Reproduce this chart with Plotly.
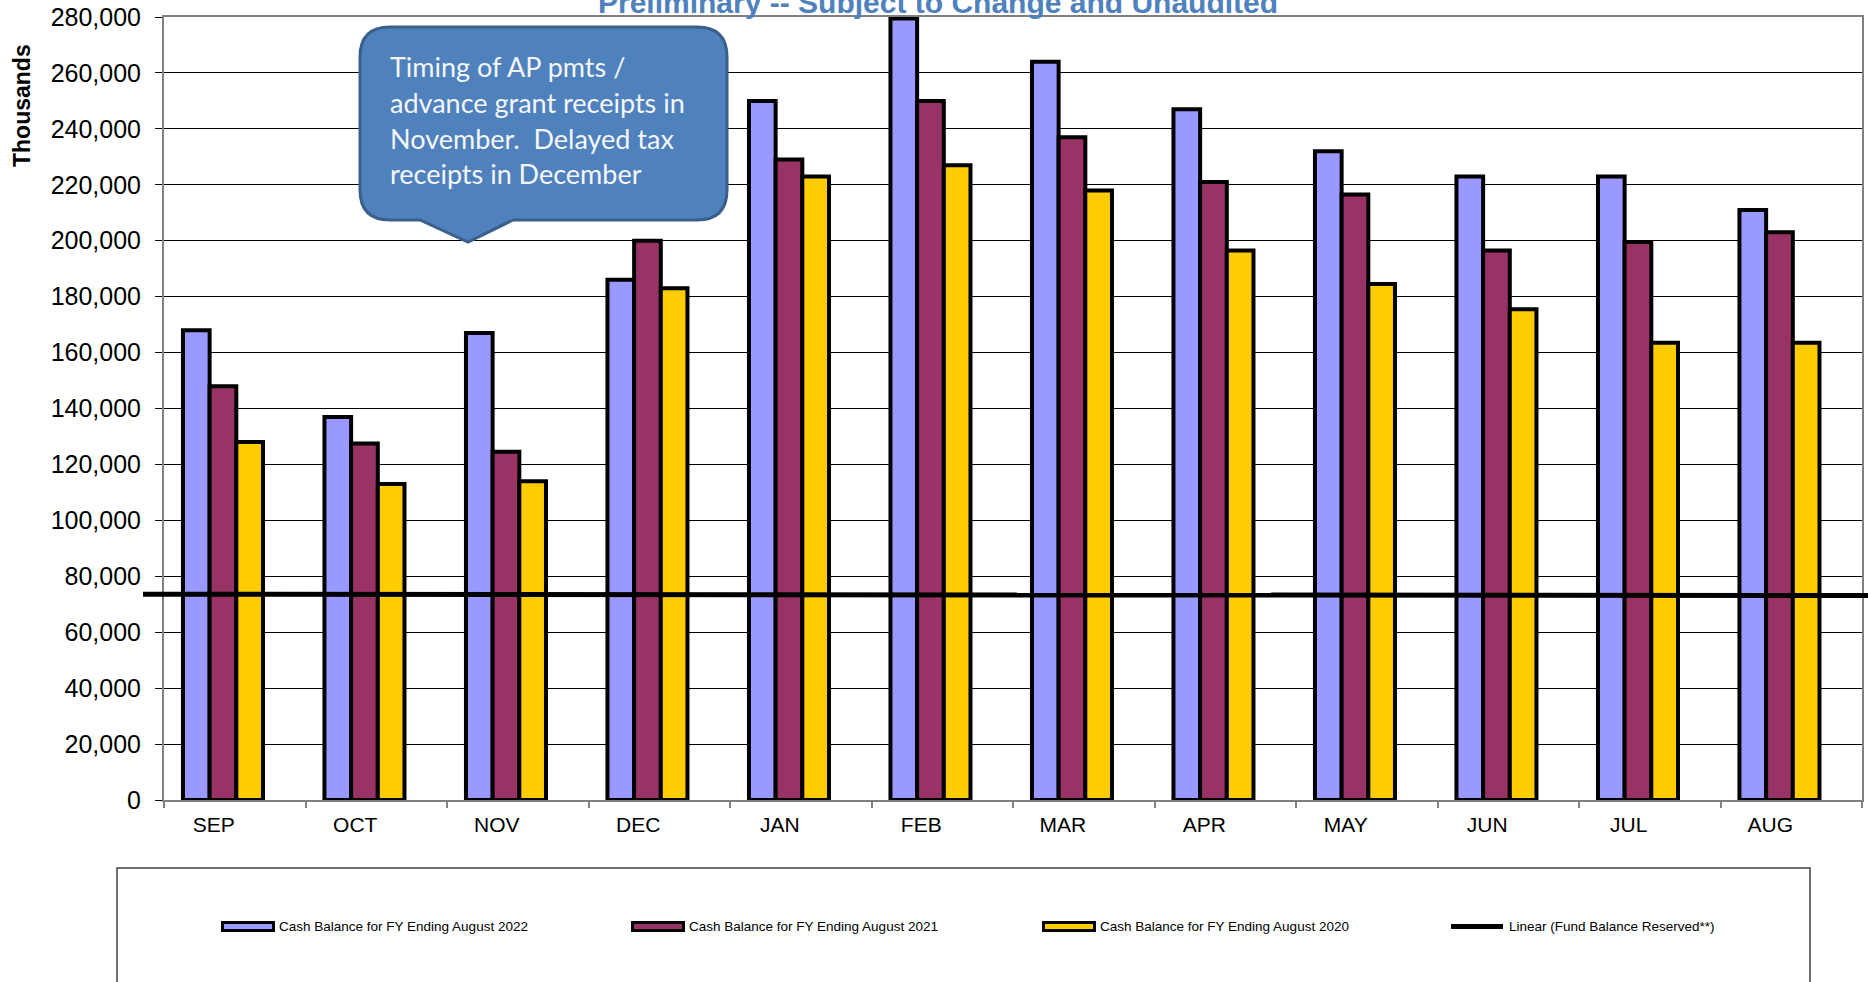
import plotly.graph_objects as go

# ---- data (thousands of dollars) ----
months = ["SEP", "OCT", "NOV", "DEC", "JAN", "FEB", "MAR", "APR", "MAY", "JUN", "JUL", "AUG"]

fy2022 = [168000, 137000, 167000, 186000, 250000, 279500, 264000, 247000, 232000, 223000, 223000, 211000]
fy2021 = [148000, 127500, 124500, 200000, 229000, 250000, 237000, 221000, 216500, 196500, 199500, 203000]
fy2020 = [128000, 113000, 114000, 183000, 223000, 227000, 218000, 196500, 184500, 175500, 163500, 163500]

# linear trend of the fund balance reserved (start, end)
reserve_trend = [73600, 73100]

series_names = [
    "Cash Balance for FY Ending August 2022",
    "Cash Balance for FY Ending August 2021",
    "Cash Balance for FY Ending August 2020",
]
trend_name = "Linear (Fund Balance Reserved**)"

title_text = "Preliminary -- Subject to Change and Unaudited"
callout_lines = [
    "Timing of AP pmts /",
    "advance grant receipts in",
    "November.  Delayed tax",
    "receipts in December",
]

colors = ["#9999FF", "#993366", "#FFCC00"]

# ---- page geometry ----
W, H = 1868, 982
L, R, T, B = 164, 6, 17, 182
PW = W - L - R
PH = H - T - B


def px(x):
    return (x - L) / PW


def py(y):
    return (H - B - y) / PH


ARIAL = "Arial, Liberation Sans, sans-serif"

fig = go.Figure()

bar_w = 0.1885
offsets = [-0.366, -0.366 + bar_w, -0.366 + 2 * bar_w]
for vals, name, col, off in zip([fy2022, fy2021, fy2020], series_names, colors, offsets):
    fig.add_trace(go.Bar(
        x=months, y=vals, name=name,
        marker=dict(color=col, line=dict(color="black", width=4)),
        width=bar_w, offset=off,
        showlegend=False,
    ))

shapes = []

# trend line across the plot (runs slightly past both edges)
shapes.append(dict(type="line", xref="paper", yref="y",
                   x0=px(143), x1=px(1868), y0=reserve_trend[0], y1=reserve_trend[1],
                   line=dict(color="black", width=5), layer="above"))

# callout bubble
x0, x1, y0, y1, r = 360, 727, 27, 220, 30
pts = [
    ("M", x0 + r, y0), ("L", x1 - r, y0), ("Q", x1, y0, x1, y0 + r),
    ("L", x1, y1 - r), ("Q", x1, y1, x1 - r, y1),
    ("L", 513, y1), ("L", 468, 242), ("L", 420, y1),
    ("L", x0 + r, y1), ("Q", x0, y1, x0, y1 - r),
    ("L", x0, y0 + r), ("Q", x0, y0, x0 + r, y0),
]
path = ""
for p in pts:
    cmd = p[0]
    coords = p[1:]
    parts = []
    for i in range(0, len(coords), 2):
        parts.append("%.5f,%.5f" % (px(coords[i]), py(coords[i + 1])))
    path += cmd + " ".join(parts) + " "
path += "Z"
shapes.append(dict(type="path", xref="paper", yref="paper", path=path,
                   fillcolor="#4F81BD", line=dict(color="#3A5F8B", width=3), layer="above"))

# legend frame
shapes.append(dict(type="rect", xref="paper", yref="paper",
                   x0=px(117), x1=px(1810), y0=py(868), y1=py(995),
                   line=dict(color="#404040", width=1.5), fillcolor="rgba(0,0,0,0)"))

annotations = []

# legend entries (swatch + label)
leg_x = [221, 631, 1042]
for lx, name, col in zip(leg_x, series_names, colors):
    shapes.append(dict(type="rect", xref="paper", yref="paper",
                       x0=px(lx + 1.5), x1=px(lx + 52.5), y0=py(922.5), y1=py(930.5),
                       fillcolor=col, line=dict(color="black", width=3)))
    annotations.append(dict(text=name, x=px(lx + 56), y=py(926), xref="paper", yref="paper",
                            xanchor="left", yanchor="middle", showarrow=False,
                            font=dict(family=ARIAL, size=13.5, color="black")))
shapes.append(dict(type="line", xref="paper", yref="paper",
                   x0=px(1451), x1=px(1503), y0=py(926.5), y1=py(926.5),
                   line=dict(color="black", width=5)))
annotations.append(dict(text=trend_name, x=px(1507), y=py(926), xref="paper", yref="paper",
                        xanchor="left", yanchor="middle", showarrow=False,
                        font=dict(family=ARIAL, size=13.5, color="black")))

# callout text
for i, line in enumerate(callout_lines):
    annotations.append(dict(text=line, x=px(388), y=py(67 + 35.5 * i), xref="paper", yref="paper",
                            xanchor="left", yanchor="middle", showarrow=False,
                            font=dict(family="Lato, Open Sans, sans-serif", size=27, color="#F4F6FA")))

# title (cut off at the top of the page)
annotations.append(dict(text="<b>" + title_text + "</b>", x=px(938), y=py(2.5),
                        xref="paper", yref="paper", xanchor="center", yanchor="middle",
                        showarrow=False, font=dict(family=ARIAL, size=30, color="#4F81BD")))

# y axis title
annotations.append(dict(text="<b>Thousands</b>", x=px(22), y=py(106), xref="paper", yref="paper",
                        xanchor="center", yanchor="middle", textangle=-90, showarrow=False,
                        font=dict(family=ARIAL, size=23, color="black")))

fig.update_layout(
    width=W, height=H,
    margin=dict(l=L, r=R, t=T, b=B, autoexpand=False),
    paper_bgcolor="white", plot_bgcolor="white",
    barmode="overlay",
    showlegend=False,
    shapes=shapes,
    annotations=annotations,
    xaxis=dict(
        type="category", range=[-0.5, 11.5],
        showline=True, linecolor="#808080", linewidth=2, mirror=True,
        ticks="outside", tickson="boundaries", ticklen=6, tickcolor="#808080", tickwidth=1.5,
        showgrid=False, ticklabelshift=-21, ticklabelstandoff=5,
        tickfont=dict(family=ARIAL, size=21, color="black"),
    ),
    yaxis=dict(
        range=[0, 280000], dtick=20000, tickformat=",",
        showline=True, linecolor="#808080", linewidth=2, mirror=True,
        ticks="outside", ticklen=7, tickcolor="black",
        showgrid=True, gridcolor="black", gridwidth=1, zeroline=False,
        ticklabelstandoff=9,
        tickfont=dict(family=ARIAL, size=25, color="black"),
    ),
)

# page body has a default 8px margin; drop it so the figure sits at the page corner
fig.write_html("out.html", config={"displayModeBar": False},
               post_script="document.body.style.margin='0px';")
